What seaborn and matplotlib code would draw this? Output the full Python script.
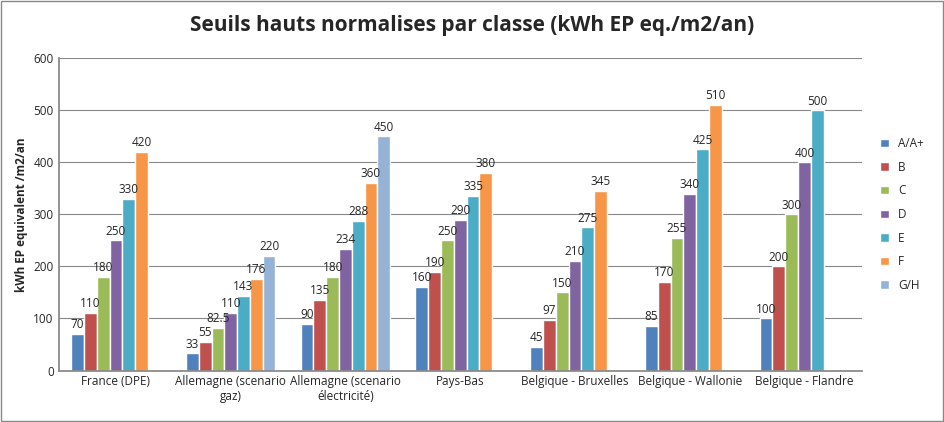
import pandas as pd
import numpy as np
import seaborn as sns
import matplotlib.pyplot as plt

# Values (NaN = no bar for that class)
COUNTRIES = ["France (DPE)", "Allemagne (scenario\ngaz)", "Allemagne (scenario\nélectricité)",
             "Pays-Bas", "Belgique - Bruxelles", "Belgique - Wallonie", "Belgique - Flandre"]
CLASSES = ["A/A+", "B", "C", "D", "E", "F", "G/H"]
VALUES = [
    [70, 110, 180, 250, 330, 420, np.nan],
    [33, 55, 82.5, 110, 143, 176, 220],
    [90, 135, 180, 234, 288, 360, 450],
    [160, 190, 250, 290, 335, 380, np.nan],
    [45, 97, 150, 210, 275, 345, np.nan],
    [85, 170, 255, 340, 425, 510, np.nan],
    [100, 200, 300, 400, 500, np.nan, np.nan],
]
PALETTE = ["#4F81BD", "#C0504D", "#9BBB59", "#8064A2", "#4BACC6", "#F79646", "#95B3D7"]

rows = []
for c, vals in zip(COUNTRIES, VALUES):
    for k, v in zip(CLASSES, vals):
        rows.append({"Pays": c, "Classe": k, "Valeur": v})
df = pd.DataFrame(rows)

sns.set_theme(style="white")
plt.rcParams['font.family'] = ['Open Sans', 'DejaVu Sans']

fig = plt.figure(figsize=(9.45, 4.22), dpi=100)
ax = fig.add_axes([0.062, 0.122, 0.85, 0.74])
sns.barplot(data=df, x="Pays", y="Valeur", hue="Classe", palette=PALETTE,
            width=0.78, saturation=1, ax=ax, errorbar=None)

for cont in ax.containers:
    labels = ["" if np.isnan(v) else (f"{v:g}") for v in cont.datavalues]
    ax.bar_label(cont, labels=labels, padding=2, fontsize=8.5)

ax.set_ylim(0, 600)
ax.set_yticks(range(0, 601, 100))
ax.yaxis.grid(True, color="#888888", linewidth=0.8)
ax.set_axisbelow(True)
for s in ["top", "right"]:
    ax.spines[s].set_visible(False)
ax.spines["left"].set_color("#888888")
ax.spines["bottom"].set_color("#888888")
ax.tick_params(axis="both", labelsize=8.5, length=0)
ax.set_xlabel("")
ax.set_ylabel("kWh EP equivalent /m2/an", fontsize=8.5, fontweight="bold")

ax.legend(title=None, loc="center left", bbox_to_anchor=(1.01, 0.5), frameon=False,
          fontsize=8.5, handlelength=0.7, handleheight=0.7, labelspacing=0.9)

fig.suptitle("Seuils hauts normalises par classe (kWh EP eq./m2/an)", fontsize=15,
             fontweight="bold", y=0.965)
fig.patches.append(plt.Rectangle((0.001, 0.002), 0.997, 0.995, transform=fig.transFigure,
                                 fill=False, edgecolor="#888888", linewidth=1))

plt.savefig("out.png", dpi=100)
